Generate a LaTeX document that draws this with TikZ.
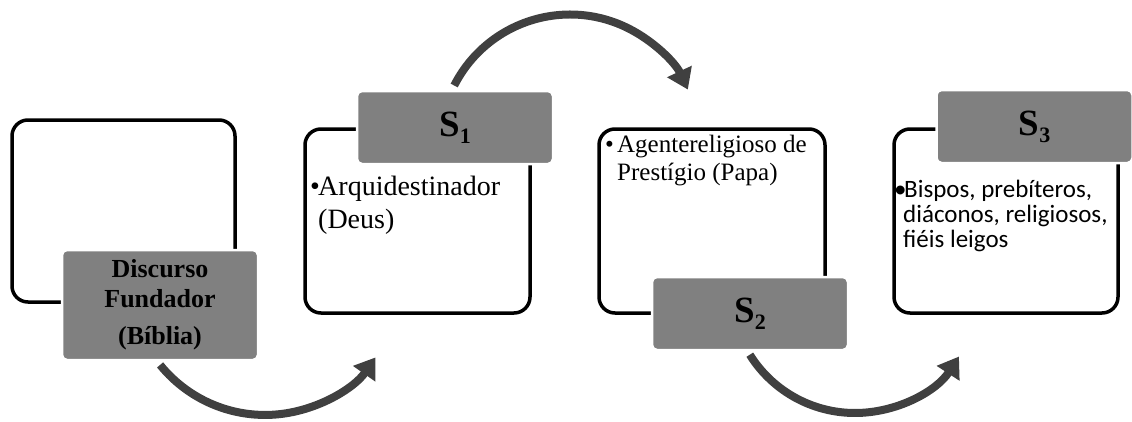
\documentclass[tikz,border=0pt]{standalone}
\usepackage{fontspec}
\setmainfont{Liberation Serif}
\newfontfamily\bodyfont{Carlito}
\usetikzlibrary{arrows.meta}

% Subscripted step label for the grey headers.
\newcommand{\Sindex}[1]{S\raisebox{-7pt}{\fontsize{22}{22}\selectfont #1}}

\begin{document}
\begin{tikzpicture}[>=Latex, x = 1pt, y = 1pt,
    frame/.style = {draw = black, line width = 3.5pt, rounded corners = 16pt},
    header/.style = {fill = gray, draw = white, line width = 2.5pt,
        rounded corners = 5pt, minimum width = 196pt, inner sep = 0pt,
        align = center},
    flow/.style = {draw = black!75, line width = 8pt,
        -{Triangle[width = 26pt, length = 20pt]}},
    bullets/.style = {anchor = north west, align = left, inner sep = 0pt}
]

        % Fix the margins of the picture.
        \useasboundingbox (0, 0) rectangle (1132, -421);

        % Start points of the curved arrows.
        \coordinate (arc0) at (160.1, -364.9);
        \coordinate (arc1) at (454.2, -85.5);
        \coordinate (arc2) at (749.8, -354.7);

        % Draw the curved arrows first, the boxes lie on top of them.
        \draw[flow] (arc0) arc[start angle = 219, end angle = 325, radius = 135pt];
        \draw[flow] (arc1) arc[start angle = 153, end angle = 25, radius = 130pt];
        \draw[flow] (arc2) arc[start angle = 212, end angle = 327, radius = 124pt];

        % The four outlined frames.
        \node[frame, minimum width = 223pt, minimum height = 182pt] (frame0) at (123.5, -211) {};
        \node[frame, minimum width = 225pt, minimum height = 184pt] (frame1) at (417.5, -221) {};
        \node[frame, minimum width = 226pt, minimum height = 184pt] (frame2) at (712, -221) {};
        \node[frame, minimum width = 224pt, minimum height = 184pt] (frame3) at (1006, -221) {};

        % Bulleted texts inside the frames.
        \node[bullets, font = \fontsize{28}{33}\selectfont] (text1) at (310, -176)
            {\makebox[8pt][l]{\textbullet}Arquidestinador\\\hspace*{8pt}(Deus)};
        \node[bullets, font = \fontsize{25}{28}\selectfont] (text2) at (605, -135)
            {\makebox[12pt][l]{\textbullet}Agentereligioso de\\\hspace*{12pt}Prestígio (Papa)};
        \node[bullets, font = \bodyfont\fontsize{25}{25}\selectfont] (text3) at (894, -180)
            {\makebox[10pt][l]{\textbullet}Bispos, prebíteros,\\\hspace*{9pt}diáconos, religiosos,\\\hspace*{9pt}fiéis leigos};

        % Grey headers, drawn last so that they cut the frames.
        \node[header, minimum height = 110pt, font = \bfseries\fontsize{26}{30}\selectfont]
            (found) at (160, -305) {Discurso\\Fundador\\[7pt](Bíblia)};
        \node[header, minimum height = 73pt, font = \bfseries\fontsize{37}{40}\selectfont]
            (step1) at (455, -127.5) {\Sindex{1}};
        \node[header, minimum height = 73pt, font = \bfseries\fontsize{37}{40}\selectfont]
            (step2) at (750, -313.5) {\Sindex{2}};
        \node[header, minimum height = 73pt, font = \bfseries\fontsize{37}{40}\selectfont]
            (step3) at (1034.5, -126.5) {\Sindex{3}};
    \end{tikzpicture}
\end{document}
